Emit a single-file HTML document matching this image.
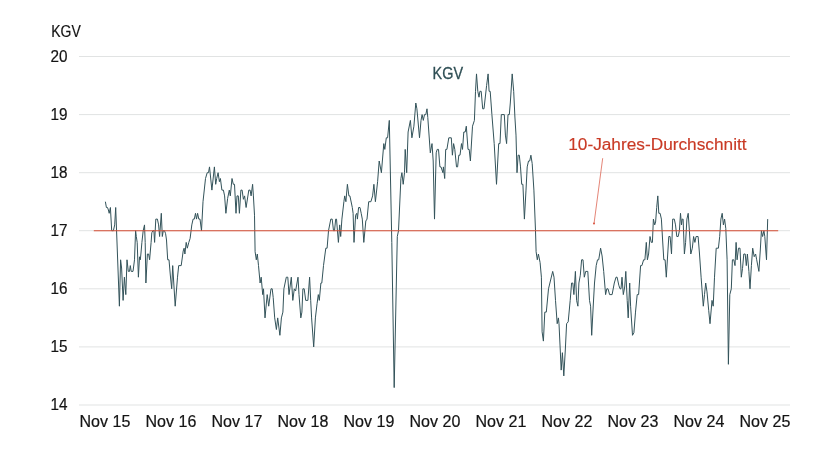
<!DOCTYPE html>
<html lang="de"><head><meta charset="utf-8"><title>KGV</title>
<style>
html,body{margin:0;padding:0;background:#fff}
body{width:840px;height:454px;overflow:hidden}
svg{display:block}
text{font-family:"Liberation Sans",sans-serif;font-size:16px}
</style></head><body>
<svg width="840" height="454" viewBox="0 0 840 454">
<rect width="840" height="454" fill="#fff"/>
<g stroke="#e1e3e3" stroke-width="1"><line x1="79" x2="790" y1="56.5" y2="56.5"/><line x1="79" x2="790" y1="114.6" y2="114.6"/><line x1="79" x2="790" y1="172.7" y2="172.7"/><line x1="79" x2="790" y1="230.7" y2="230.7"/><line x1="79" x2="790" y1="288.8" y2="288.8"/><line x1="79" x2="790" y1="346.9" y2="346.9"/><line x1="79" x2="790" y1="405.0" y2="405.0"/></g>
<g fill="#141414" stroke="#141414" stroke-width="0.2">
<text x="51.3" y="36.8" textLength="29.5" lengthAdjust="spacingAndGlyphs">KGV</text>
<text x="50.6" y="61.8" textLength="17" lengthAdjust="spacingAndGlyphs">20</text><text x="50.6" y="119.9" textLength="17" lengthAdjust="spacingAndGlyphs">19</text><text x="50.6" y="178.0" textLength="17" lengthAdjust="spacingAndGlyphs">18</text><text x="50.6" y="236.0" textLength="17" lengthAdjust="spacingAndGlyphs">17</text><text x="50.6" y="294.1" textLength="17" lengthAdjust="spacingAndGlyphs">16</text><text x="50.6" y="352.2" textLength="17" lengthAdjust="spacingAndGlyphs">15</text><text x="50.6" y="410.3" textLength="17" lengthAdjust="spacingAndGlyphs">14</text><text x="79.5" y="426.8" textLength="50.8" lengthAdjust="spacingAndGlyphs">Nov 15</text><text x="145.5" y="426.8" textLength="50.8" lengthAdjust="spacingAndGlyphs">Nov 16</text><text x="211.5" y="426.8" textLength="50.8" lengthAdjust="spacingAndGlyphs">Nov 17</text><text x="277.5" y="426.8" textLength="50.8" lengthAdjust="spacingAndGlyphs">Nov 18</text><text x="343.5" y="426.8" textLength="50.8" lengthAdjust="spacingAndGlyphs">Nov 19</text><text x="409.5" y="426.8" textLength="50.8" lengthAdjust="spacingAndGlyphs">Nov 20</text><text x="475.5" y="426.8" textLength="50.8" lengthAdjust="spacingAndGlyphs">Nov 21</text><text x="541.5" y="426.8" textLength="50.8" lengthAdjust="spacingAndGlyphs">Nov 22</text><text x="607.5" y="426.8" textLength="50.8" lengthAdjust="spacingAndGlyphs">Nov 23</text><text x="673.5" y="426.8" textLength="50.8" lengthAdjust="spacingAndGlyphs">Nov 24</text><text x="739.5" y="426.8" textLength="50.8" lengthAdjust="spacingAndGlyphs">Nov 25</text>
</g>
<path d="M105.4 201.7 L106.4 207.5 L107.5 207.5 L108.4 210.0 L109.2 213.3 L110.4 207.5 L111.7 230.7 L113.4 230.7 L114.7 224.9 L115.7 207.5 L119.4 306.2 L120.6 259.8 L121.6 268.0 L123.1 300.4 L124.4 277.2 L125.8 294.6 L127.0 259.8 L128.3 271.4 L129.5 271.4 L130.3 265.6 L131.2 271.4 L133.0 271.4 L134.5 259.8 L135.6 230.7 L136.3 236.5 L137.2 242.4 L138.4 277.2 L139.5 256.8 L140.3 259.8 L140.9 254.0 L141.9 242.4 L143.2 230.7 L144.5 224.9 L145.2 242.4 L145.9 283.0 L147.4 254.0 L148.6 254.0 L149.6 259.8 L151.1 242.4 L151.8 232.8 L152.9 230.7 L153.9 230.7 L154.6 242.4 L155.8 219.1 L157.4 219.1 L158.6 224.9 L159.6 236.5 L161.3 213.3 L162.3 236.5 L163.3 230.7 L164.5 230.7 L165.6 233.7 L166.5 240.0 L167.7 259.8 L169.0 259.8 L170.3 275.0 L171.7 288.8 L172.7 265.6 L175.2 306.2 L177.5 277.2 L178.7 265.6 L181.2 265.6 L183.2 251.0 L184.1 248.2 L184.9 254.0 L186.2 242.4 L187.3 248.2 L188.8 242.4 L190.1 238.5 L191.8 224.9 L193.1 219.1 L194.3 219.1 L195.5 213.3 L196.5 219.1 L197.6 213.3 L198.8 219.1 L200.0 219.1 L201.5 230.7 L203.0 201.7 L205.5 178.5 L207.2 172.7 L208.5 172.7 L209.5 166.9 L211.9 190.1 L214.4 166.9 L215.7 184.3 L216.7 178.5 L218.1 172.7 L219.4 181.7 L220.4 178.5 L221.9 190.1 L223.4 190.1 L224.6 195.9 L225.9 213.3 L227.6 198.5 L229.3 190.1 L230.3 195.9 L232.0 178.5 L233.3 184.3 L234.5 184.3 L236.0 213.3 L237.0 195.9 L238.3 195.9 L239.4 213.3 L240.9 190.1 L242.1 190.1 L243.4 199.3 L244.6 195.9 L246.1 207.5 L248.8 190.1 L250.1 190.1 L251.1 195.9 L252.6 184.3 L253.4 195.9 L254.5 215.2 L255.1 251.7 L256.3 259.8 L257.3 254.0 L258.5 265.6 L260.1 283.0 L261.2 277.2 L262.7 294.6 L263.5 288.8 L265.0 317.9 L267.2 294.6 L268.7 306.2 L271.0 288.8 L272.2 288.8 L273.2 297.5 L274.7 317.9 L276.4 329.5 L277.7 317.9 L279.9 335.3 L281.4 317.9 L282.9 312.1 L283.9 288.8 L286.3 277.2 L287.8 277.2 L289.0 294.6 L291.3 277.2 L292.8 300.4 L294.3 288.8 L295.6 291.0 L298.0 277.2 L299.0 294.6 L300.8 317.9 L301.9 312.1 L302.9 288.8 L304.2 288.8 L305.7 300.4 L307.9 300.4 L309.6 277.2 L310.7 300.4 L311.6 317.9 L313.7 346.9 L315.4 317.9 L317.1 303.4 L318.3 294.6 L319.3 300.4 L320.9 283.0 L321.8 283.0 L323.5 265.6 L325.8 248.2 L327.1 248.2 L328.5 230.7 L330.8 219.1 L332.2 219.1 L333.5 230.7 L334.5 230.7 L335.7 219.1 L336.5 219.1 L338.4 242.4 L339.7 224.9 L340.7 236.5 L341.9 219.1 L343.9 201.7 L344.7 195.9 L345.9 201.7 L347.4 184.3 L348.9 195.9 L349.9 195.9 L352.3 207.5 L353.1 213.3 L354.0 242.4 L355.6 215.2 L356.8 213.3 L357.4 219.1 L358.6 207.5 L360.0 207.5 L361.2 213.3 L362.3 219.1 L363.8 242.4 L365.8 221.0 L367.0 219.1 L368.7 201.7 L370.9 201.7 L372.6 195.9 L373.9 184.3 L375.4 201.7 L377.6 181.7 L379.2 161.0 L381.4 172.7 L383.8 143.6 L384.8 149.4 L386.3 137.8 L387.6 137.8 L389.3 120.4 L391.8 242.4 L394.2 387.6 L397.3 236.5 L398.5 230.7 L400.9 178.5 L401.9 172.7 L403.2 184.3 L404.5 172.7 L405.2 149.4 L406.7 172.7 L408.1 132.0 L410.4 120.4 L411.9 137.8 L413.9 126.2 L415.8 103.0 L416.9 108.8 L419.5 137.8 L421.0 120.4 L422.1 114.6 L423.3 120.4 L424.5 114.6 L425.8 114.6 L427.0 108.8 L427.8 117.6 L430.3 152.8 L432.0 143.6 L433.2 161.0 L434.5 219.1 L436.2 152.8 L437.2 149.4 L438.5 149.4 L439.9 166.9 L441.0 166.9 L442.9 172.7 L443.4 166.9 L444.7 178.5 L445.7 149.4 L446.9 149.4 L448.8 137.8 L451.3 137.8 L452.4 155.2 L453.6 143.6 L454.8 149.4 L456.5 166.9 L457.6 166.9 L458.8 155.2 L460.0 155.2 L461.5 143.6 L462.5 149.4 L463.8 132.0 L465.2 132.0 L466.3 126.2 L468.0 149.4 L469.2 149.4 L470.4 161.0 L472.5 126.2 L474.4 120.4 L475.5 91.3 L476.5 73.9 L477.8 91.3 L479.0 97.2 L479.9 91.3 L481.2 91.3 L482.7 108.8 L484.0 108.8 L486.6 85.5 L488.1 73.9 L489.1 91.3 L490.2 91.3 L491.9 114.6 L494.2 143.6 L496.5 184.3 L498.7 143.6 L500.0 143.6 L501.3 114.6 L504.3 114.6 L505.4 135.1 L506.6 143.6 L508.0 114.6 L509.3 114.6 L510.3 103.0 L512.2 73.9 L513.7 91.3 L514.9 117.0 L516.0 135.1 L517.0 172.7 L518.1 155.2 L519.3 155.2 L520.5 166.9 L521.7 184.3 L522.9 184.3 L524.4 219.1 L526.0 190.1 L527.2 166.9 L528.5 161.0 L529.7 161.0 L530.9 155.2 L532.2 163.6 L533.9 190.1 L535.5 230.7 L536.1 251.7 L537.3 259.8 L538.4 254.0 L540.1 262.6 L541.4 277.2 L542.1 331.8 L543.4 341.1 L544.8 312.1 L546.3 312.1 L548.5 288.8 L552.7 271.4 L554.0 277.2 L555.5 300.4 L557.2 323.7 L558.4 317.9 L559.0 323.7 L561.2 370.1 L562.4 352.7 L563.8 375.9 L565.3 350.0 L566.6 323.7 L568.2 321.8 L570.2 300.4 L571.6 283.0 L572.8 283.0 L573.9 294.6 L575.4 271.4 L576.6 300.4 L577.9 306.2 L578.9 283.0 L580.3 275.2 L581.6 259.8 L583.0 259.8 L584.3 277.2 L585.7 271.4 L587.8 271.4 L589.5 300.4 L590.6 306.2 L591.7 335.3 L593.0 310.0 L594.5 283.0 L596.2 265.6 L597.5 259.8 L598.7 259.8 L600.6 248.2 L602.1 256.0 L603.7 271.4 L605.6 294.6 L606.8 288.8 L608.0 288.8 L609.6 294.6 L612.1 294.6 L614.3 283.0 L616.0 277.2 L617.1 277.2 L618.8 285.2 L620.0 288.8 L621.0 288.8 L622.0 277.2 L623.3 294.6 L624.7 287.0 L625.8 271.4 L627.2 300.4 L628.2 317.9 L629.7 283.0 L630.6 306.2 L632.5 335.3 L633.9 332.7 L635.5 312.1 L637.2 294.6 L638.6 294.6 L640.6 265.6 L641.9 265.6 L643.6 259.8 L644.9 259.8 L646.3 242.4 L647.4 259.8 L648.6 254.0 L650.0 236.5 L651.3 242.4 L652.4 242.4 L653.4 219.1 L654.7 224.9 L655.6 222.0 L656.7 207.5 L657.8 195.9 L658.8 213.3 L660.1 213.3 L661.4 219.1 L662.6 240.0 L663.8 259.8 L665.1 259.8 L666.3 277.2 L667.6 256.0 L668.8 236.5 L670.1 236.5 L671.5 254.0 L672.7 219.1 L674.3 219.1 L675.5 224.9 L676.8 236.5 L678.2 236.5 L679.4 230.7 L680.5 213.3 L681.5 224.9 L682.2 219.1 L683.1 219.1 L684.4 254.0 L685.6 242.4 L686.9 219.1 L688.2 213.3 L689.4 230.7 L690.8 254.0 L692.3 248.2 L693.6 236.5 L694.9 242.4 L696.1 236.5 L698.1 236.5 L699.5 254.0 L701.1 277.2 L703.3 306.2 L704.5 294.6 L705.7 283.0 L707.0 291.9 L708.7 310.3 L710.0 323.7 L712.0 300.4 L713.2 306.2 L714.5 277.2 L716.2 248.2 L718.4 248.2 L719.7 236.5 L720.9 219.1 L722.2 213.3 L723.4 224.9 L724.6 219.1 L725.8 228.6 L727.1 259.8 L728.4 364.3 L729.8 294.6 L731.3 288.8 L732.4 259.8 L733.8 259.8 L735.0 265.6 L736.1 242.4 L737.1 259.8 L738.5 248.2 L740.0 248.2 L741.3 277.2 L742.5 268.5 L743.8 254.0 L745.2 254.0 L746.3 265.6 L747.4 254.0 L748.9 271.4 L750.0 288.8 L751.4 265.6 L752.7 248.2 L754.2 256.7 L755.6 254.0 L756.7 259.8 L758.9 271.4 L760.3 250.0 L761.4 230.7 L762.6 236.5 L763.9 230.7 L764.8 236.5 L766.5 259.8 L767.7 219.1" fill="none" stroke="#33535a" stroke-width="1.0" stroke-linejoin="bevel" stroke-linecap="butt"/>
<line x1="93.8" x2="778.2" y1="230.75" y2="230.75" stroke="#d54c33" stroke-width="1"/>
<text x="432.6" y="78.8" fill="#2f4f55" stroke="#2f4f55" stroke-width="0.3" textLength="30.4" lengthAdjust="spacingAndGlyphs">KGV</text>
<text x="568.2" y="149.6" fill="#c93a25" stroke="#c93a25" stroke-width="0.15" textLength="178.4" lengthAdjust="spacingAndGlyphs">10-Jahres-Durchschnitt</text>
<line x1="602.7" y1="158.2" x2="594.1" y2="223" stroke="#d9503c" stroke-width="0.7"/>
<circle cx="594" cy="223.5" r="1" fill="#d9503c"/>
</svg>
</body></html>
